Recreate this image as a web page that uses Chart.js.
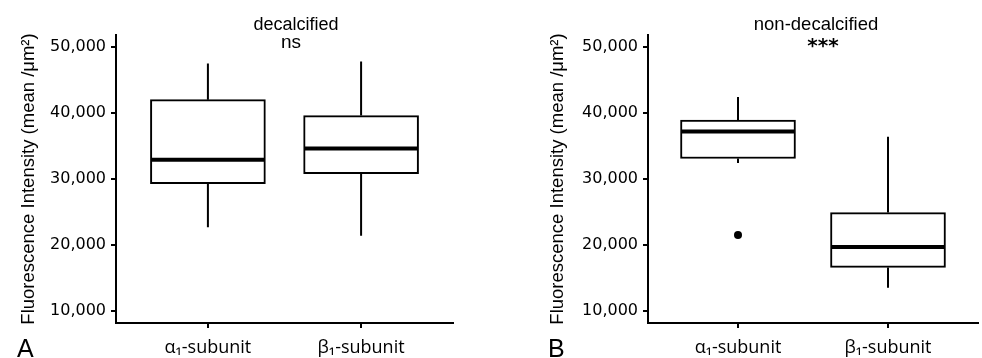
<!DOCTYPE html>
<html><head><meta charset="utf-8">
<script src="https://cdn.jsdelivr.net/npm/chart.js@4.4.1/dist/chart.umd.min.js"></script>
<style>
html,body{margin:0;padding:0;background:#fff;}
#wrap{position:relative;width:982px;height:358px;}
.panel{position:absolute;top:0;width:491px;height:358px;}
</style></head><body>
<div id="wrap">
  <div class="panel" style="left:0"><canvas id="chartA"></canvas></div>
  <div class="panel" style="left:491px"><canvas id="chartB"></canvas></div>
</div>
<script>
// categories and ticks
const categories = ["α₁-subunit", "β₁-subunit"];
const yTicks = [10000, 20000, 30000, 40000, 50000];

// decalcified (A)
const decalLow    = [22700, 21400];
const decalQ1     = [29300, 30800];
const decalMedian = [32900, 34600];
const decalQ3     = [42000, 39600];
const decalHigh   = [47500, 47800];
const decalOutliers = [null, null];

// non-decalcified (B)
const nonDecalLow    = [32400, 13500];
const nonDecalQ1     = [33100, 16600];
const nonDecalMedian = [37200, 19700];
const nonDecalQ3     = [38900, 24900];
const nonDecalHigh   = [42400, 36400];
const nonDecalOutliers = [21500, null];

const INK = "#000";

// whiskers + median lines on top of the floating-bar boxes
const boxExtras = {
  id: "boxExtras",
  afterDatasetsDraw(chart) {
    const ds = chart.data.datasets[0];
    const meta = chart.getDatasetMeta(0);
    const y = chart.scales.y;
    const ctx = chart.ctx;
    ctx.save();
    ctx.strokeStyle = INK;
    meta.data.forEach((bar, i) => {
      const half = bar.width / 2;
      // whiskers
      ctx.lineWidth = 2;
      ctx.beginPath();
      ctx.moveTo(bar.x, y.getPixelForValue(ds.q3[i]));
      ctx.lineTo(bar.x, y.getPixelForValue(ds.high[i]));
      ctx.moveTo(bar.x, y.getPixelForValue(ds.q1[i]));
      ctx.lineTo(bar.x, y.getPixelForValue(ds.low[i]));
      ctx.stroke();
      // median
      ctx.lineWidth = 4;
      ctx.beginPath();
      const my = y.getPixelForValue(ds.median[i]);
      ctx.moveTo(bar.x - half + 1, my);
      ctx.lineTo(bar.x + half - 1, my);
      ctx.stroke();
    });
    ctx.restore();
  }
};

// free text: panel title, significance mark, panel letter
const panelText = {
  id: "panelText",
  afterDraw(chart, args, opts) {
    const ctx = chart.ctx;
    ctx.save();
    ctx.fillStyle = INK;
    ctx.textBaseline = "alphabetic";
    (opts.items || []).forEach(t => {
      ctx.font = t.font;
      ctx.textAlign = t.align || "center";
      ctx.fillText(t.text, t.x, t.y);
    });
    ctx.restore();
  }
};

function makeChart(id, low, q1, median, q3, high, outliers, texts, pad, yWidth) {
  const boxes = categories.map((c, i) => ({ x: i, y: [q1[i], q3[i]] }));
  const pts = outliers.map((v, i) => v == null ? null : { x: i, y: v }).filter(Boolean);
  return new Chart(document.getElementById(id), {
    type: "bar",
    data: {
      datasets: [
        { type: "bar", data: boxes, low, q1, median, q3, high,
          backgroundColor: "#fff", borderColor: INK, borderWidth: 2, borderSkipped: false,
          barThickness: 115 },
        { type: "scatter", data: pts, pointRadius: 4, pointBackgroundColor: INK,
          pointBorderColor: INK, pointBorderWidth: 0 }
      ]
    },
    options: {
      responsive: true, maintainAspectRatio: false, animation: false,
      layout: { padding: pad },
      plugins: { legend: { display: false }, tooltip: { enabled: false }, panelText: { items: texts } },
      scales: {
        x: {
          type: "linear", min: -0.6, max: 1.6, offset: false,
          afterBuildTicks: s => { s.ticks = categories.map((c, i) => ({ value: i })); },
          afterFit: s => { s.height = 35; },
          grid: { offset: false, drawOnChartArea: false, drawTicks: true, tickLength: 5, color: INK, lineWidth: 2 },
          border: { display: true, color: INK, width: 2 },
          ticks: { padding: 9, color: INK, font: { family: "'Open Sans'", size: 18 },
                   callback: v => categories[v] }
        },
        y: {
          min: 8180, max: 51800,
          afterBuildTicks: s => { s.ticks = yTicks.map(v => ({ value: v })); },
          afterFit: s => { s.width = yWidth; },
          grid: { drawOnChartArea: false, drawTicks: true, tickLength: 5, color: INK, lineWidth: 2 },
          border: { display: true, color: INK, width: 2 },
          ticks: { padding: 5, color: INK, font: { family: "'DejaVu Sans'", size: 16 },
                   callback: v => v.toLocaleString("en-US") },
          title: { display: true, text: "Fluorescence Intensity (mean /μm²)", color: INK,
                   padding: { top: 18, bottom: 0 },
                   font: { family: "'Liberation Sans'", size: 18.5, lineHeight: 1.2 } }
        }
      }
    },
    plugins: [boxExtras, panelText]
  });
}

makeChart("chartA", decalLow, decalQ1, decalMedian, decalQ3, decalHigh, decalOutliers, [
  { text: "decalcified", x: 296, y: 30, font: "18px 'Liberation Sans'" },
  { text: "ns", x: 291, y: 48, font: "19px 'Liberation Sans'" },
  { text: "A", x: 17, y: 357, font: "25px 'Liberation Sans'", align: "left" }
], { top: 35, right: 38, left: 0, bottom: 0 }, 116);

makeChart("chartB", nonDecalLow, nonDecalQ1, nonDecalMedian, nonDecalQ3, nonDecalHigh, nonDecalOutliers, [
  { text: "non-decalcified", x: 325, y: 30, font: "18.5px 'Liberation Sans'" },
  { text: "***", x: 332, y: 52, font: "bold 20px 'DejaVu Sans'" },
  { text: "B", x: 57, y: 357, font: "25px 'Liberation Sans'", align: "left" }
], { top: 35, right: 0, left: 38, bottom: 0 }, 119);
</script>
</body></html>
